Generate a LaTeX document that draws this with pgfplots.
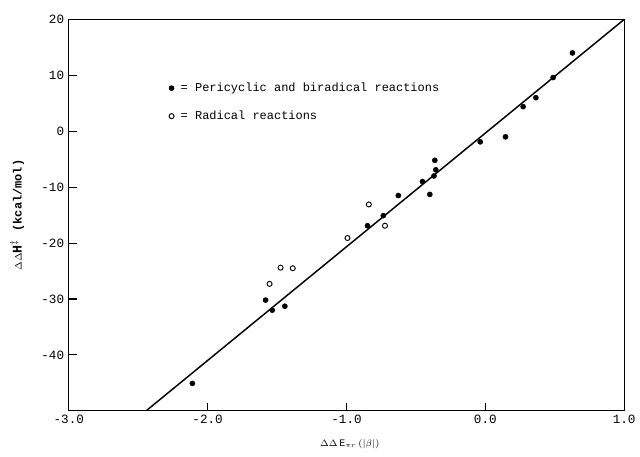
\documentclass[border=0pt]{standalone}
\usepackage{pgfplots}
\pgfplotsset{compat=1.18}
\usepackage{fontspec}
\setmainfont{Liberation Mono}
\begin{document}
\begin{tikzpicture}
\begin{axis}[
  name=ax,
  scale only axis,
  width=417.75pt, height=294.4pt,
  xmin=-3, xmax=1, ymin=-50, ymax=20,
  xtick={-3,-2,-1,0,1}, xticklabels={-3.0,-2.0,-1.0,0.0,1.0},
  ytick={-40,-30,-20,-10,0,10,20}, yticklabels={-40,-30,-20,-10,0,10,20},
  tick align=inside, xtick pos=left, ytick pos=left,
  major tick length=6pt,
  tick style={line width=0.8pt, black},
  axis line style={line width=0.8pt},
  ticklabel style={font=\fontsize{9.5}{10}\selectfont},
  xlabel={\fontsize{7.5}{9}\selectfont$\Delta\Delta\,\mathrm{E}_{\pi r}\,(|\beta|)$},
  xlabel style={at={(axis description cs:0.506,-0.084)}, anchor=center},
  ylabel={{\fontsize{7.5}{8}\selectfont$\Delta\Delta$}\textbf{H}$^{\ddagger}$ \fontsize{9}{10}\selectfont\textbf{(kcal/mol)}},
  ylabel style={at={(axis description cs:-0.093,0.50)}, anchor=center},
  legend style={at={(axis cs:-2.28,5.2)}, anchor=west, draw=none, fill=none,
    font=\fontsize{9}{10}\selectfont, row sep=11pt, inner sep=0pt,
    nodes={inner sep=1pt},
    /tikz/every odd column/.append style={column sep=4pt}},
  legend cell align=left,
  legend image code/.code={\draw[#1] plot coordinates {(0cm,0cm)};},
]
\addplot[black, line width=1.1pt, forget plot] coordinates {(-2.443,-50) (1,20)};
\addplot[only marks, mark=*, mark size=1.9pt, black] coordinates {
(-2.11,-45.1) (-1.583,-30.2) (-1.535,-32.0) (-1.444,-31.3)
(-0.849,-16.9) (-0.735,-15.1) (-0.627,-11.5) (-0.453,-9.0)
(-0.400,-11.3) (-0.364,-5.2) (-0.357,-6.9) (-0.37,-8.0)
(-0.037,-1.9) (0.145,-1.0) (0.272,4.4) (0.364,6.0) (0.488,9.6) (0.627,14.0)
};
\addlegendentry{= Pericyclic and biradical reactions}
\addplot[only marks, mark=o, mark size=1.9pt, black, mark options={line width=0.7pt}] coordinates {
(-1.554,-27.3) (-1.475,-24.4) (-1.387,-24.5) (-0.993,-19.1) (-0.839,-13.1) (-0.723,-16.9)
};
\addlegendentry{= Radical reactions}
\end{axis}
\path (ax.south west) ++(-51.75pt,-34.5pt);
\path (ax.north east) ++(10.5pt,14.6pt);
\end{tikzpicture}
\end{document}
